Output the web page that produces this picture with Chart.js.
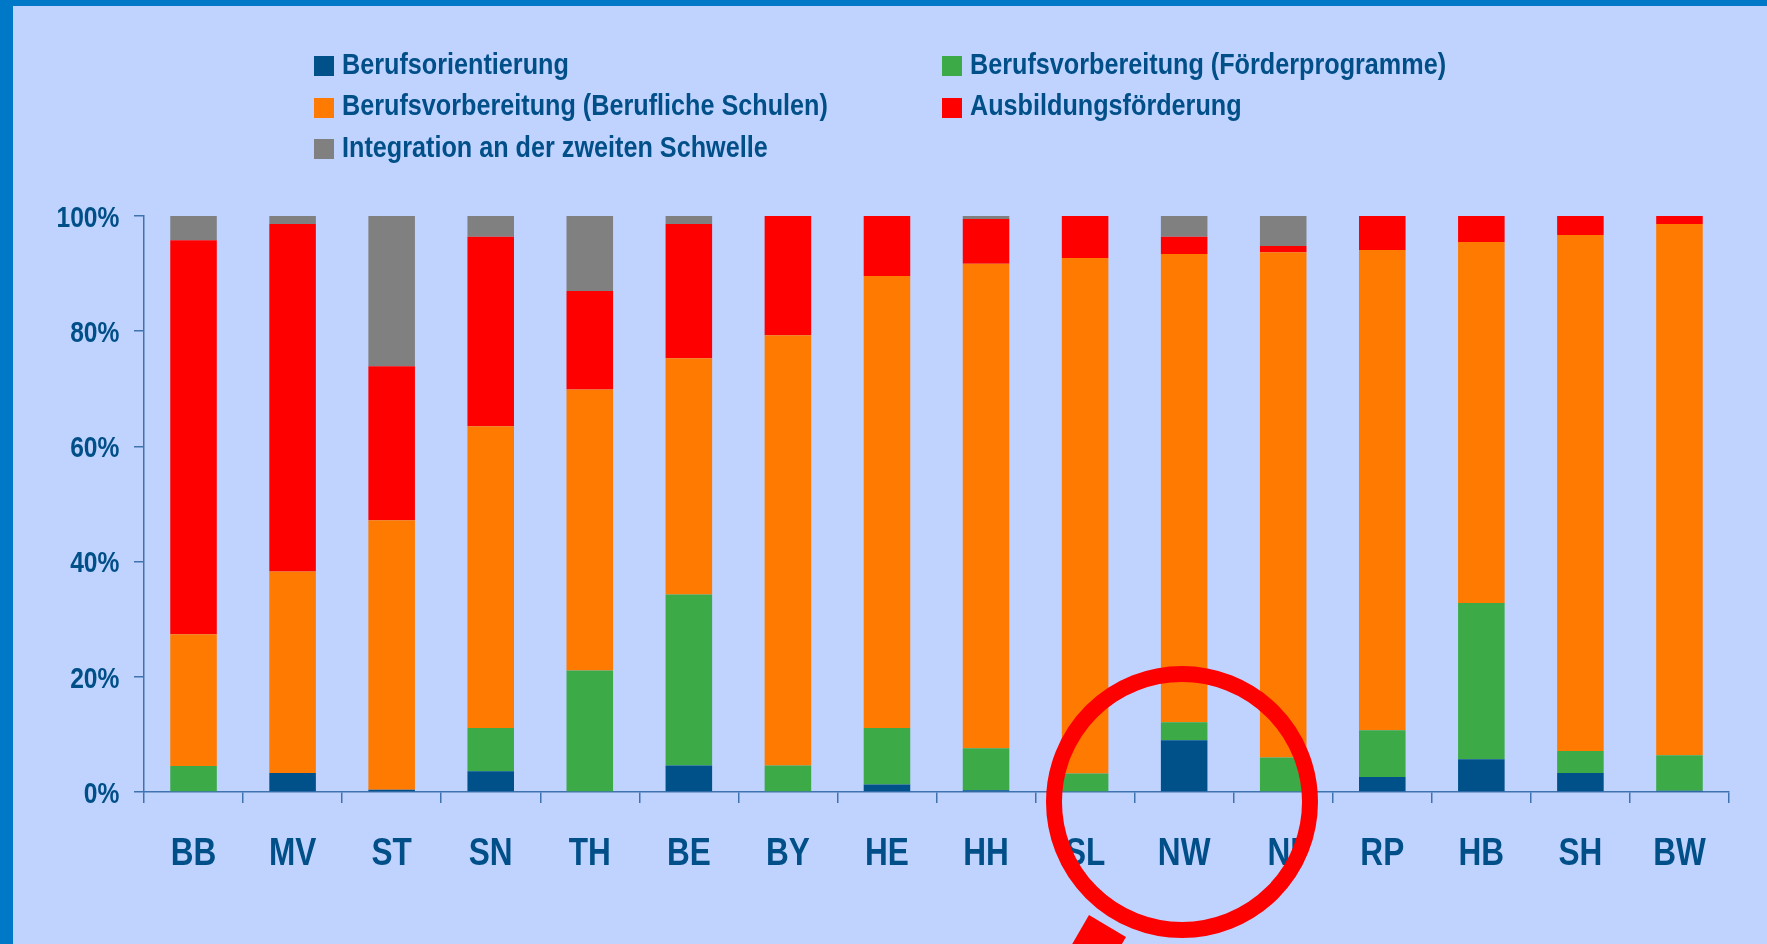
<!DOCTYPE html>
<html>
<head>
<meta charset="utf-8">
<script src="https://cdn.jsdelivr.net/npm/chart.js@4.4.1/dist/chart.umd.min.js"></script>
<style>
  html, body { margin: 0; padding: 0; }
  body {
    width: 1767px; height: 944px; position: relative; overflow: hidden;
    background: #c0d3fe;
    font-family: "Liberation Sans", Arial, sans-serif;
  }
  #frame-top { position: absolute; left: 0; top: 0; width: 1767px; height: 6px; background: #0078c8; }
  #frame-left { position: absolute; left: 0; top: 0; width: 13px; height: 944px; background: #0078c8; }
  #chart { position: absolute; left: 0; top: 0; }
  .legend-box { position: absolute; width: 20px; height: 20px; }
  .legend-text {
    position: absolute; font-size: 30px; line-height: 30px; font-weight: bold;
    color: #004f88; white-space: nowrap;
    transform: scaleX(0.84); transform-origin: 0 0;
  }
  #marker { position: absolute; left: 0; top: 0; }
</style>
</head>
<body>
<canvas id="chart" width="1767" height="944"></canvas>
<div id="legend"></div>
<div id="frame-top"></div>
<div id="frame-left"></div>
<svg id="marker" width="1767" height="944">
  <circle cx="1182" cy="802" r="128" fill="none" stroke="#ff0000" stroke-width="16"/>
  <polygon points="1089,915 1126,937 1086,1006 1049,984" fill="#ff0000"/>
</svg>
<script>
// Categories (Bundeslaender) and shares in percent, bottom to top
const categories = ["BB", "MV", "ST", "SN", "TH", "BE", "BY", "HE", "HH", "SL", "NW", "NI", "RP", "HB", "SH", "BW"];
const berufsorientierung = [0, 3.3, 0.4, 3.6, 0, 4.6, 0, 1.3, 0.3, 0, 9.0, 0, 2.6, 5.7, 3.3, 0.2];
const foerderprogramme = [4.5, 0, 0, 7.5, 21.1, 29.7, 4.6, 9.8, 7.3, 3.2, 3.1, 6.0, 8.1, 27.1, 3.8, 6.2];
const beruflicheSchulen = [22.9, 35.0, 46.8, 52.4, 48.8, 41.0, 74.7, 78.5, 84.1, 89.5, 81.3, 87.7, 83.4, 62.7, 89.6, 92.2];
const ausbildungsfoerderung = [68.4, 60.3, 26.7, 32.9, 17.1, 23.3, 20.7, 10.4, 7.8, 7.3, 3.0, 1.1, 5.9, 4.5, 3.3, 1.4];
const integration = [4.2, 1.4, 26.1, 3.6, 13.0, 1.4, 0, 0, 0.5, 0, 3.6, 5.2, 0, 0, 0, 0];
const yTicks = [0, 20, 40, 60, 80, 100];

const textColor = "#004f88";
const axisColor = "#3f73b0";
const fontFamily = '"Liberation Sans", Arial, sans-serif';

function makeSet(label, data, color) {
  return { label, data, backgroundColor: color, borderWidth: 0, barPercentage: 0.47, categoryPercentage: 1.0 };
}

// Tick labels in a condensed bold look (no narrow font installed): squeeze them horizontally
const narrowLabels = {
  id: "narrowLabels",
  afterDraw(chart) {
    const ctx = chart.ctx;
    const xs = chart.scales.x;
    const ys = chart.scales.y;
    ctx.save();
    ctx.fillStyle = textColor;
    ctx.textBaseline = "alphabetic";

    ctx.font = "bold 39px " + fontFamily;
    ctx.textAlign = "center";
    xs.ticks.forEach((t, i) => {
      ctx.save();
      ctx.translate(xs.getPixelForTick(i), xs.top + 73);
      ctx.scale(0.81, 1);
      ctx.fillText(xs.getLabelForValue(t.value), 0, 0);
      ctx.restore();
    });

    ctx.font = "bold 30px " + fontFamily;
    ctx.textAlign = "right";
    ys.ticks.forEach((t) => {
      ctx.save();
      ctx.translate(ys.right - 24.6, ys.getPixelForValue(t.value) + 10.7);
      ctx.scale(0.82, 1);
      ctx.fillText(t.value + "%", 0, 0);
      ctx.restore();
    });
    ctx.restore();
  },
};

const chart = new Chart(document.getElementById("chart").getContext("2d"), {
  type: "bar",
  data: {
    labels: categories,
    datasets: [
      makeSet("Berufsorientierung", berufsorientierung, "#00508a"),
      makeSet("Berufsvorbereitung (Förderprogramme)", foerderprogramme, "#3daa48"),
      makeSet("Berufsvorbereitung (Berufliche Schulen)", beruflicheSchulen, "#ff7a00"),
      makeSet("Ausbildungsförderung", ausbildungsfoerderung, "#ff0000"),
      makeSet("Integration an der zweiten Schwelle", integration, "#808080"),
    ],
  },
  options: {
    responsive: false,
    animation: false,
    layout: { padding: { left: 0, top: 216, right: 38, bottom: 0 } },
    plugins: { legend: { display: false }, tooltip: { enabled: false } },
    scales: {
      x: {
        stacked: true,
        grid: { offset: true, drawOnChartArea: false, drawTicks: true, tickLength: 11, color: axisColor, lineWidth: 1.5 },
        border: { color: axisColor, width: 1.5 },
        ticks: { display: false, autoSkip: false },
        afterFit(scale) {
          scale.height = 152;
          scale.paddingLeft = 0;
          scale.paddingRight = 0;
        },
      },
      y: {
        stacked: true,
        min: 0,
        max: 100,
        afterBuildTicks(scale) {
          scale.ticks = yTicks.map((v) => ({ value: v }));
        },
        grid: { drawOnChartArea: false, drawTicks: true, tickLength: 10, color: axisColor, lineWidth: 1.5 },
        border: { color: axisColor, width: 1.5 },
        ticks: { display: false },
        afterFit(scale) {
          scale.width = 144;
          scale.paddingTop = 0;
          scale.paddingBottom = 0;
        },
      },
    },
  },
  plugins: [narrowLabels],
});

// Legend in two columns, row by row, built from the datasets
const legend = document.getElementById("legend");
const colX = [314, 942];
chart.data.datasets.forEach((ds, i) => {
  const col = i % 2;
  const row = Math.floor(i / 2);
  const top = 56 + row * 41.5;
  const box = document.createElement("div");
  box.className = "legend-box";
  box.style.left = colX[col] + "px";
  box.style.top = top + "px";
  box.style.background = ds.backgroundColor;
  const txt = document.createElement("div");
  txt.className = "legend-text";
  txt.style.left = colX[col] + 28 + "px";
  txt.style.top = top - 7.5 + "px";
  txt.textContent = ds.label;
  legend.appendChild(box);
  legend.appendChild(txt);
});
</script>
</body>
</html>
